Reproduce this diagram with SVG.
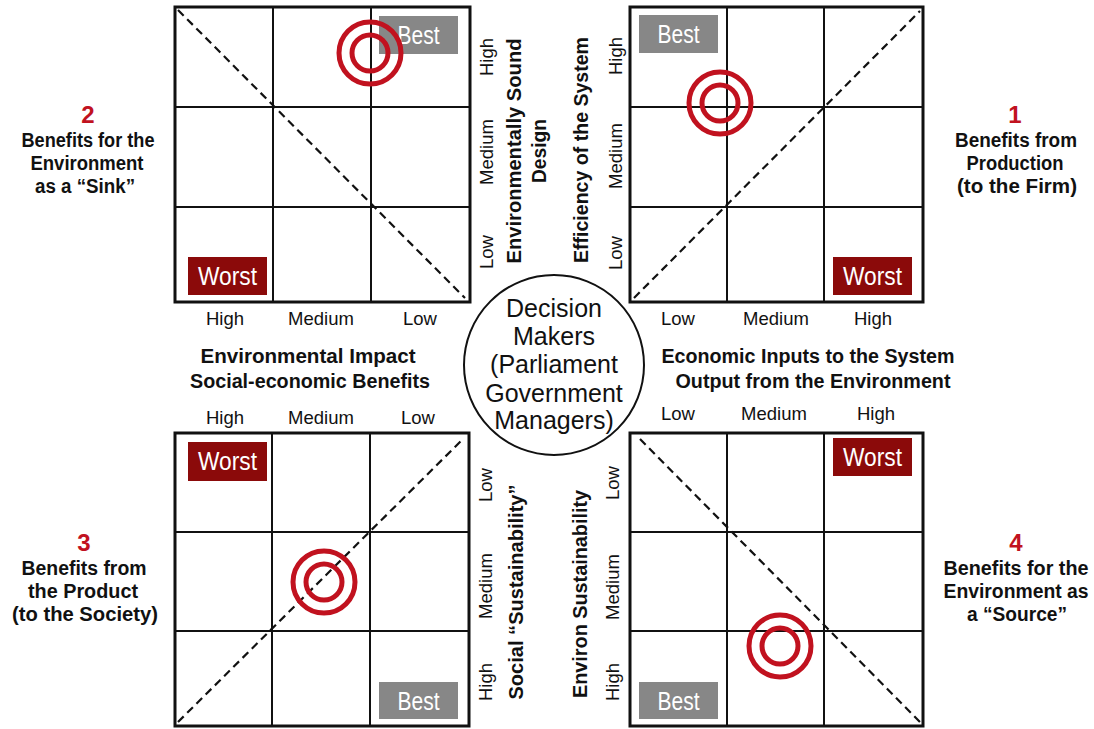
<svg xmlns="http://www.w3.org/2000/svg" width="1094" height="729" viewBox="0 0 1094 729">
  <style>
    text { font-family: "Liberation Sans", Arial, sans-serif; fill: #111; }
    .frame { fill: #fff; stroke: #111; stroke-width: 3; }
    .grid { stroke: #111; stroke-width: 2; fill: none; }
    .diag { stroke: #111; stroke-width: 2.2; stroke-dasharray: 8 5; fill: none; }
    .ring { fill: none; stroke: #c1121f; stroke-width: 5; }
    .best { fill: #878787; }
    .worst { fill: #8b0a0a; }
    .tag { fill: #fff; font-size: 25px; text-anchor: middle; }
    .axis { font-size: 18.5px; text-anchor: middle; }
    .title { font-size: 20px; font-weight: bold; text-anchor: middle; }
    .vtitle { font-size: 21px; font-weight: bold; text-anchor: middle; }
    .side { font-size: 20px; font-weight: bold; text-anchor: middle; }
    .num { font-size: 24px; font-weight: bold; fill: #c1121f; text-anchor: middle; }
    .hub { font-size: 25px; text-anchor: middle; }
  </style>

  <!-- Quadrant 2: environment as a sink (top left) -->
  <g id="quadrant-2">
    <rect class="frame" x="175" y="7" width="295" height="295"/>
    <path class="grid" d="M273 7V302M371 7V302M175 107H470M175 207H470"/>
    <line class="diag" x1="178" y1="10" x2="465" y2="298"/>
    <rect class="best" x="379" y="16" width="79" height="38"/>
    <text class="tag" x="418.5" y="44" textLength="42" lengthAdjust="spacingAndGlyphs">Best</text>
    <rect class="worst" x="188" y="257" width="79" height="38"/>
    <text class="tag" x="227.5" y="285" textLength="59" lengthAdjust="spacingAndGlyphs">Worst</text>
    <circle class="ring" cx="370" cy="53" r="31"/>
    <circle class="ring" cx="370" cy="53" r="18"/>
    <text class="axis" x="225" y="325">High</text>
    <text class="axis" x="321" y="325">Medium</text>
    <text class="axis" x="420" y="325">Low</text>
    <text class="axis" transform="translate(493,57) rotate(-90)">High</text>
    <text class="axis" transform="translate(493,152) rotate(-90)">Medium</text>
    <text class="axis" transform="translate(493,252) rotate(-90)">Low</text>
    <text class="vtitle" transform="translate(521,151) rotate(-90)" textLength="225" lengthAdjust="spacingAndGlyphs">Environmentally Sound</text>
    <text class="vtitle" transform="translate(546,151) rotate(-90)" textLength="64" lengthAdjust="spacingAndGlyphs">Design</text>
  </g>

  <!-- Quadrant 1: production, benefits to the firm (top right) -->
  <g id="quadrant-1">
    <rect class="frame" x="630" y="7" width="293" height="295"/>
    <path class="grid" d="M727 7V302M824 7V302M630 107H923M630 207H923"/>
    <line class="diag" x1="634" y1="298" x2="920" y2="11"/>
    <rect class="best" x="639" y="15" width="79" height="38"/>
    <text class="tag" x="678.5" y="43" textLength="42" lengthAdjust="spacingAndGlyphs">Best</text>
    <rect class="worst" x="833" y="257" width="79" height="38"/>
    <text class="tag" x="872.5" y="285" textLength="59" lengthAdjust="spacingAndGlyphs">Worst</text>
    <circle class="ring" cx="720" cy="103" r="31"/>
    <circle class="ring" cx="720" cy="103" r="18"/>
    <text class="axis" x="678" y="325">Low</text>
    <text class="axis" x="776" y="325">Medium</text>
    <text class="axis" x="873" y="325">High</text>
    <text class="axis" transform="translate(622,56) rotate(-90)">High</text>
    <text class="axis" transform="translate(622,156) rotate(-90)">Medium</text>
    <text class="axis" transform="translate(622,253) rotate(-90)">Low</text>
    <text class="vtitle" transform="translate(588,150) rotate(-90)" textLength="226" lengthAdjust="spacingAndGlyphs">Efficiency of the System</text>
  </g>

  <!-- Quadrant 3: the product, benefits to society (bottom left) -->
  <g id="quadrant-3">
    <rect class="frame" x="175" y="433" width="294" height="293"/>
    <path class="grid" d="M272 433V726M370 433V726M175 532H469M175 631H469"/>
    <line class="diag" x1="178" y1="722" x2="462" y2="440"/>
    <rect class="worst" x="188" y="442" width="79" height="39"/>
    <text class="tag" x="227.5" y="470" textLength="59" lengthAdjust="spacingAndGlyphs">Worst</text>
    <rect class="best" x="379" y="682" width="79" height="37"/>
    <text class="tag" x="418.5" y="710" textLength="42" lengthAdjust="spacingAndGlyphs">Best</text>
    <circle class="ring" cx="324" cy="582" r="31"/>
    <circle class="ring" cx="324" cy="582" r="18"/>
    <text class="axis" x="225" y="424">High</text>
    <text class="axis" x="321" y="424">Medium</text>
    <text class="axis" x="418" y="424">Low</text>
    <text class="axis" transform="translate(492,485) rotate(-90)">Low</text>
    <text class="axis" transform="translate(492,586) rotate(-90)">Medium</text>
    <text class="axis" transform="translate(492,682) rotate(-90)">High</text>
    <text class="vtitle" transform="translate(523,592) rotate(-90)" textLength="215" lengthAdjust="spacingAndGlyphs">Social “Sustainability”</text>
  </g>

  <!-- Quadrant 4: environment as a source (bottom right) -->
  <g id="quadrant-4">
    <rect class="frame" x="630" y="433" width="293" height="293"/>
    <path class="grid" d="M727 433V726M824 433V726M630 532H923M630 631H923"/>
    <line class="diag" x1="640" y1="439" x2="920" y2="722"/>
    <rect class="worst" x="833" y="438" width="79" height="38"/>
    <text class="tag" x="872.5" y="466" textLength="59" lengthAdjust="spacingAndGlyphs">Worst</text>
    <rect class="best" x="639" y="682" width="79" height="37"/>
    <text class="tag" x="678.5" y="710" textLength="42" lengthAdjust="spacingAndGlyphs">Best</text>
    <circle class="ring" cx="780" cy="646" r="31"/>
    <circle class="ring" cx="780" cy="646" r="18"/>
    <text class="axis" x="678" y="420">Low</text>
    <text class="axis" x="774" y="420">Medium</text>
    <text class="axis" x="876" y="420">High</text>
    <text class="axis" transform="translate(619,483) rotate(-90)">Low</text>
    <text class="axis" transform="translate(619,587) rotate(-90)">Medium</text>
    <text class="axis" transform="translate(619,682) rotate(-90)">High</text>
    <text class="vtitle" transform="translate(587,594) rotate(-90)" textLength="208" lengthAdjust="spacingAndGlyphs">Environ Sustainability</text>
  </g>

  <!-- Central hub -->
  <g id="decision-makers">
    <circle cx="554" cy="365" r="90" fill="#fff" stroke="#111" stroke-width="2"/>
    <text class="hub" x="554" y="317">Decision</text>
    <text class="hub" x="554" y="345">Makers</text>
    <text class="hub" x="554" y="373">(Parliament</text>
    <text class="hub" x="554" y="402">Government</text>
    <text class="hub" x="554" y="429">Managers)</text>
  </g>

  <!-- Horizontal axis titles -->
  <g id="axis-title-left">
    <text class="title" x="308" y="363" textLength="215" lengthAdjust="spacingAndGlyphs">Environmental Impact</text>
    <text class="title" x="310" y="388" textLength="240" lengthAdjust="spacingAndGlyphs">Social-economic Benefits</text>
  </g>
  <g id="axis-title-right">
    <text class="title" x="808" y="363" textLength="293" lengthAdjust="spacingAndGlyphs">Economic Inputs to the System</text>
    <text class="title" x="813" y="388" textLength="275" lengthAdjust="spacingAndGlyphs">Output from the Environment</text>
  </g>

  <!-- Quadrant captions -->
  <g id="caption-2">
    <text class="num" x="88" y="123">2</text>
    <text class="side" x="88" y="147" textLength="133" lengthAdjust="spacingAndGlyphs">Benefits for the</text>
    <text class="side" x="87" y="170" textLength="113" lengthAdjust="spacingAndGlyphs">Environment</text>
    <text class="side" x="85" y="193" textLength="100" lengthAdjust="spacingAndGlyphs">as a “Sink”</text>
  </g>
  <g id="caption-1">
    <text class="num" x="1015" y="123">1</text>
    <text class="side" x="1016" y="147" textLength="122" lengthAdjust="spacingAndGlyphs">Benefits from</text>
    <text class="side" x="1015" y="170" textLength="97" lengthAdjust="spacingAndGlyphs">Production</text>
    <text class="side" x="1017" y="193" textLength="120" lengthAdjust="spacingAndGlyphs">(to the Firm)</text>
  </g>
  <g id="caption-3">
    <text class="num" x="84" y="551">3</text>
    <text class="side" x="84" y="575" textLength="125" lengthAdjust="spacingAndGlyphs">Benefits from</text>
    <text class="side" x="83" y="598" textLength="110" lengthAdjust="spacingAndGlyphs">the Product</text>
    <text class="side" x="85" y="621" textLength="146" lengthAdjust="spacingAndGlyphs">(to the Society)</text>
  </g>
  <g id="caption-4">
    <text class="num" x="1016" y="551">4</text>
    <text class="side" x="1016" y="575" textLength="145" lengthAdjust="spacingAndGlyphs">Benefits for the</text>
    <text class="side" x="1016" y="598" textLength="145" lengthAdjust="spacingAndGlyphs">Environment as</text>
    <text class="side" x="1017" y="621" textLength="100" lengthAdjust="spacingAndGlyphs">a “Source”</text>
  </g>
</svg>
